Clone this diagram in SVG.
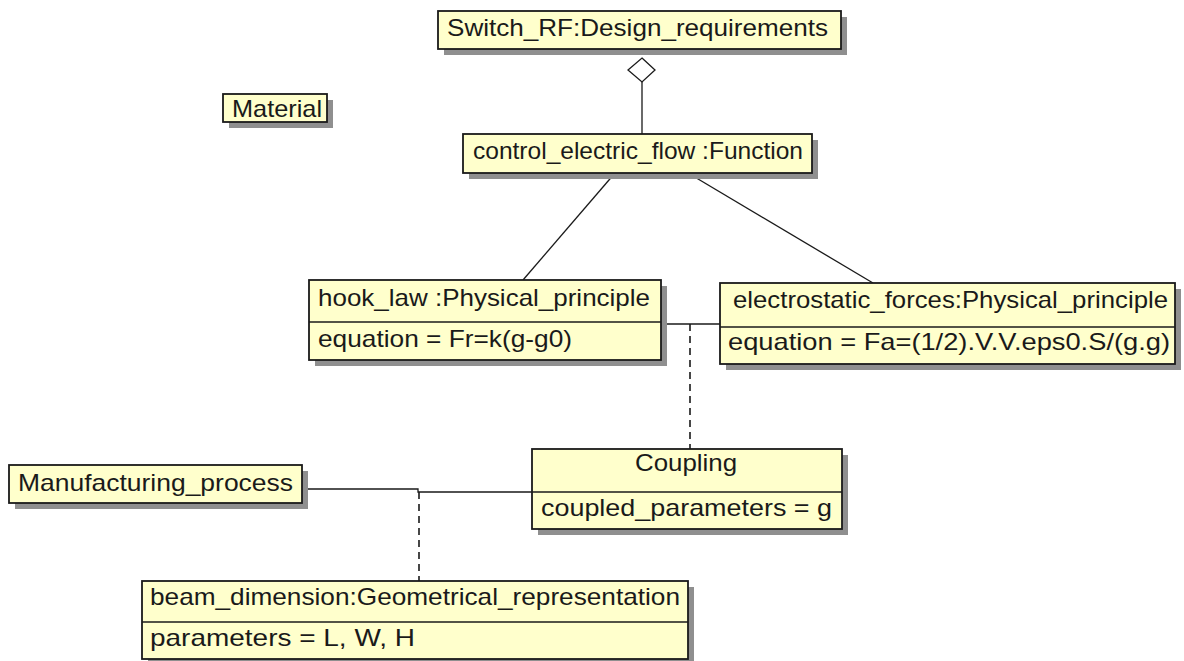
<svg xmlns="http://www.w3.org/2000/svg" width="1184" height="661" viewBox="0 0 1184 661">
<style>
.sh{fill:#8f8f8f}
.bx{fill:#ffffcc;stroke:#1a1a1a;stroke-width:1.8}
.dv{stroke:#1a1a1a;stroke-width:1.6}
.t{font-family:"Liberation Sans",Arial,sans-serif;font-size:24px;fill:#1a1a1a}
.ln{stroke:#1a1a1a;stroke-width:1.3;fill:none}
.da{stroke:#1a1a1a;stroke-width:1.6;fill:none;stroke-dasharray:7 5}
</style>
<rect width="1184" height="661" fill="#ffffff"/>
<g id="connectors">
<line class="ln" x1="642" y1="82" x2="642" y2="134"/>
<polygon points="642,58 655,70 642,82 628,70" fill="#ffffff" stroke="#1a1a1a" stroke-width="1.3"/>
<line class="ln" x1="615" y1="173" x2="523" y2="280"/>
<line class="ln" x1="688" y1="173" x2="873" y2="283"/>
<line class="ln" x1="661" y1="324" x2="720" y2="324"/>
<line class="da" x1="690" y1="324" x2="690" y2="449"/>
<polyline class="ln" points="302,489 418,489 418,492 532,492"/>
<line class="da" x1="419" y1="492" x2="419" y2="581"/>
</g>
<g id="switch_rf">
<rect class="sh" x="444" y="17" width="403" height="38"/>
<rect class="bx" x="438" y="11" width="403" height="38"/>
<text class="t" x="447" y="36" textLength="381" lengthAdjust="spacingAndGlyphs">Switch_RF:Design_requirements</text>
</g>
<g id="material">
<rect class="sh" x="229" y="100" width="104" height="28"/>
<rect class="bx" x="223" y="94" width="104" height="28"/>
<text class="t" x="232" y="117" textLength="90" lengthAdjust="spacingAndGlyphs">Material</text>
</g>
<g id="control_electric_flow">
<rect class="sh" x="469" y="140" width="349" height="39"/>
<rect class="bx" x="463" y="134" width="349" height="39"/>
<text class="t" x="473" y="159" textLength="330" lengthAdjust="spacingAndGlyphs">control_electric_flow :Function</text>
</g>
<g id="hook_law">
<rect class="sh" x="315" y="286" width="352" height="80"/>
<rect class="bx" x="309" y="280" width="352" height="80"/>
<line class="dv" x1="309" y1="322" x2="661" y2="322"/>
<text class="t" x="318" y="306" textLength="332" lengthAdjust="spacingAndGlyphs">hook_law :Physical_principle</text>
<text class="t" x="318" y="347" textLength="254" lengthAdjust="spacingAndGlyphs">equation = Fr=k(g-g0)</text>
</g>
<g id="electrostatic_forces">
<rect class="sh" x="726" y="289" width="455" height="81"/>
<rect class="bx" x="720" y="283" width="455" height="81"/>
<line class="dv" x1="720" y1="327" x2="1175" y2="327"/>
<text class="t" x="733" y="308" textLength="435" lengthAdjust="spacingAndGlyphs">electrostatic_forces:Physical_principle</text>
<text class="t" x="728" y="350" textLength="442" lengthAdjust="spacingAndGlyphs">equation = Fa=(1/2).V.V.eps0.S/(g.g)</text>
</g>
<g id="coupling">
<rect class="sh" x="538" y="455" width="310" height="80"/>
<rect class="bx" x="532" y="449" width="310" height="80"/>
<line class="dv" x1="532" y1="492" x2="842" y2="492"/>
<text class="t" x="635" y="471" textLength="102" lengthAdjust="spacingAndGlyphs">Coupling</text>
<text class="t" x="541" y="516" textLength="291" lengthAdjust="spacingAndGlyphs">coupled_parameters = g</text>
</g>
<g id="manufacturing_process">
<rect class="sh" x="15" y="471" width="293" height="38"/>
<rect class="bx" x="9" y="465" width="293" height="38"/>
<text class="t" x="18" y="491" textLength="275" lengthAdjust="spacingAndGlyphs">Manufacturing_process</text>
</g>
<g id="beam_dimension">
<rect class="sh" x="148" y="587" width="546" height="78"/>
<rect class="bx" x="142" y="581" width="546" height="78"/>
<line class="dv" x1="142" y1="622" x2="688" y2="622"/>
<text class="t" x="150" y="605" textLength="530" lengthAdjust="spacingAndGlyphs">beam_dimension:Geometrical_representation</text>
<text class="t" x="150" y="646" textLength="265" lengthAdjust="spacingAndGlyphs">parameters = L, W, H</text>
</g>
</svg>
